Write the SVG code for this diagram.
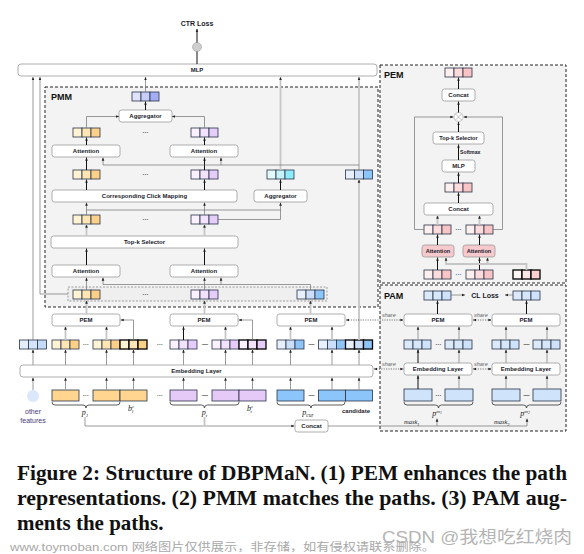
<svg xmlns="http://www.w3.org/2000/svg" width="584" height="554" viewBox="0 0 584 554">
<style>
.bx{fill:#fff;stroke:#9b9b9b;stroke-width:0.8}
.bxp{fill:#f6c9cc;stroke:#9b9b9b;stroke-width:0.8}
.bt{font-family:"Liberation Sans",Arial,sans-serif;font-weight:bold;font-size:6px;text-anchor:middle;fill:#1b1b2b}
.rg{fill:#f3f3f3;stroke:#222;stroke-width:1;stroke-dasharray:3 2}
.rl{font-family:"Liberation Sans",Arial,sans-serif;font-weight:bold;font-size:9px;fill:#111}
.c{fill:none;stroke:#707070;stroke-width:0.7}
.d{fill:none;stroke:#111;stroke-width:1}
.g{fill:none;stroke:#c6c6c6;stroke-width:1.8}
.m{fill:none;stroke:#9a9a9a;stroke-width:1}
.a{marker-end:url(#ah)}
.sh{fill:none;stroke:#444;stroke-width:0.7;stroke-dasharray:1.2 1.2;marker-start:url(#ah);marker-end:url(#ah)}
.dots{font-family:"Liberation Sans",Arial,sans-serif;font-size:6px;font-weight:bold;text-anchor:middle;fill:#333}
.math{font-family:"Liberation Serif","Times New Roman",serif;font-style:italic;font-size:8px;fill:#222;text-anchor:middle}
.shr{font-family:"Liberation Sans",Arial,sans-serif;font-style:italic;font-size:5.5px;fill:#666}
.cap{font-family:"Liberation Serif","Times New Roman",serif;font-weight:bold;font-size:21px;fill:#111}
.cell{stroke:#283246;stroke-width:0.8}
.cb{stroke:#000;stroke-width:1.3}
.inp{stroke:#283246;stroke-width:0.8}
</style>
<defs>
<marker id="ah" viewBox="0 0 6 6" refX="6" refY="3" markerWidth="3.2" markerHeight="3.2" markerUnits="userSpaceOnUse" orient="auto-start-reverse"><path d="M0,0.5L6,3L0,5.5z" fill="#222"/></marker>
<g id="vO"><rect class="cell" x="0" y="0" width="9" height="9" fill="#fff3d4"/><rect class="cell" x="9" y="0" width="9" height="9" fill="#ffe6b4"/><rect class="cell" x="18" y="0" width="9" height="9" fill="#fdd08a"/></g>
<g id="vOb"><rect class="cb" x="0" y="0" width="9" height="9" fill="#fff3d4"/><rect class="cb" x="9" y="0" width="9" height="9" fill="#ffe6b4"/><rect class="cb" x="18" y="0" width="9" height="9" fill="#fdd08a"/></g>
<g id="vP"><rect class="cell" x="0" y="0" width="9" height="9" fill="#faf0ff"/><rect class="cell" x="9" y="0" width="9" height="9" fill="#f2e2fd"/><rect class="cell" x="18" y="0" width="9" height="9" fill="#e5ccf9"/></g>
<g id="vPb"><rect class="cb" x="0" y="0" width="9" height="9" fill="#faf0ff"/><rect class="cb" x="9" y="0" width="9" height="9" fill="#f2e2fd"/><rect class="cb" x="18" y="0" width="9" height="9" fill="#e5ccf9"/></g>
<g id="vB"><rect class="cell" x="0" y="0" width="9" height="9" fill="#e8f0fd"/><rect class="cell" x="9" y="0" width="9" height="9" fill="#cbdffb"/><rect class="cell" x="18" y="0" width="9" height="9" fill="#8ec5f8"/></g>
<g id="vBb"><rect class="cb" x="0" y="0" width="9" height="9" fill="#e8f0fd"/><rect class="cb" x="9" y="0" width="9" height="9" fill="#cbdffb"/><rect class="cb" x="18" y="0" width="9" height="9" fill="#8ec5f8"/></g>
<g id="vF"><rect class="cell" x="0" y="0" width="9" height="9" fill="#e4edfc"/><rect class="cell" x="9" y="0" width="9" height="9" fill="#d4e4fb"/><rect class="cell" x="18" y="0" width="9" height="9" fill="#c4dbfa"/></g>
<g id="vC"><rect class="cell" x="0" y="0" width="9" height="9" fill="#e2fbff"/><rect class="cell" x="9" y="0" width="9" height="9" fill="#c5f2fb"/><rect class="cell" x="18" y="0" width="9" height="9" fill="#8debfb"/></g>
<g id="vA"><rect class="cell" x="0" y="0" width="9" height="9" fill="#dfe4fc"/><rect class="cell" x="9" y="0" width="9" height="9" fill="#c7cefa"/><rect class="cell" x="18" y="0" width="9" height="9" fill="#a3aef5"/></g>
<g id="vK"><rect class="cell" x="0" y="0" width="9" height="9" fill="#fff0f0"/><rect class="cell" x="9" y="0" width="9" height="9" fill="#fddbdc"/><rect class="cell" x="18" y="0" width="9" height="9" fill="#f9c4c6"/></g>
<g id="vKb"><rect class="cb" x="0" y="0" width="9" height="9" fill="#fff6f6"/><rect class="cb" x="9" y="0" width="9" height="9" fill="#fde6e6"/><rect class="cb" x="18" y="0" width="9" height="9" fill="#f9cfd0"/></g>
<g id="vL"><rect class="cell" x="0" y="0" width="9" height="9" fill="#dce9fb"/><rect class="cell" x="9" y="0" width="9" height="9" fill="#d6e6fb"/><rect class="cell" x="18" y="0" width="9" height="9" fill="#cfe2fb"/></g>
</defs>
<rect width="584" height="554" fill="#fff"/>

<!-- regions -->
<g id="pmm-region"><rect class="rg" x="45" y="87" width="333" height="220"/><text class="rl" x="51" y="100">PMM</text></g>
<g id="pem-region"><rect class="rg" x="380" y="65" width="186" height="218"/><text class="rl" x="384" y="78">PEM</text></g>
<g id="pam-region"><rect class="rg" x="380" y="285" width="186" height="146"/><text class="rl" x="384" y="299">PAM</text></g>

<!-- top -->
<g id="ctr-loss"><text class="bt" x="197" y="26" style="font-size:7px">CTR Loss</text></g>
<g id="sigmoid"><circle cx="197" cy="47" r="4.5" fill="#cfcfcf" stroke="#aaa" stroke-width="0.7"/></g>
<g id="mlp"><rect class="bx" x="18" y="64" width="359" height="12" rx="3"/><text class="bt" x="197" y="72.2">MLP</text></g>

<!-- PMM nodes -->
<g id="agg-out"><use href="#vA" x="132" y="92"/></g>
<g id="aggregator1"><rect class="bx" x="119" y="110" width="53" height="12" rx="2.5"/><text class="bt" x="145.5" y="118.2">Aggregator</text></g>
<g id="att-out1"><use href="#vO" x="73" y="128"/></g>
<g id="att-out2"><use href="#vP" x="191" y="128"/></g>
<text class="dots" x="145.5" y="134">···</text>
<g id="attention-top1"><rect class="bx" x="52" y="145" width="68" height="12" rx="2.5"/><text class="bt" x="86" y="153.2">Attention</text></g>
<g id="attention-top2"><rect class="bx" x="170" y="145" width="68" height="12" rx="2.5"/><text class="bt" x="204" y="153.2">Attention</text></g>
<g id="ccm-out1"><use href="#vO" x="73" y="170"/></g>
<g id="ccm-out2"><use href="#vP" x="191" y="170"/></g>
<text class="dots" x="145.5" y="176">···</text>
<g id="agg2-out"><use href="#vC" x="267" y="170"/></g>
<g id="cand-vec"><use href="#vB" x="345.5" y="170"/></g>
<g id="ccm"><rect class="bx" x="52" y="190" width="185" height="12" rx="2.5"/><text class="bt" x="144.5" y="198.2">Corresponding Click Mapping</text></g>
<g id="aggregator2"><rect class="bx" x="254" y="190" width="53" height="12" rx="2.5"/><text class="bt" x="280.5" y="198.2">Aggregator</text></g>
<g id="topk-out1"><use href="#vO" x="73" y="215"/></g>
<g id="topk-out2"><use href="#vP" x="191" y="215"/></g>
<text class="dots" x="145.5" y="221">···</text>
<g id="topk"><rect class="bx" x="51" y="236" width="187" height="12" rx="2.5"/><text class="bt" x="144.5" y="244.2">Top-k Selector</text></g>
<g id="attention-bot1"><rect class="bx" x="52" y="265" width="68" height="12" rx="2.5"/><text class="bt" x="86" y="273.2">Attention</text></g>
<g id="attention-bot2"><rect class="bx" x="170" y="265" width="68" height="12" rx="2.5"/><text class="bt" x="204" y="273.2">Attention</text></g>
<g id="pem-outs"><rect x="68" y="287" width="259" height="14" fill="#efefef" stroke="#888" stroke-width="0.8" stroke-dasharray="2 1.5"/><use href="#vO" x="73" y="290"/><use href="#vP" x="191" y="290"/><use href="#vB" x="297" y="290"/><text class="dots" x="145.5" y="296">···</text></g>

<!-- main bottom -->
<g id="pem1"><rect class="bx" x="52" y="314" width="68" height="12" rx="2.5"/><text class="bt" x="86" y="322.2">PEM</text></g>
<g id="pem2"><rect class="bx" x="170" y="314" width="68" height="12" rx="2.5"/><text class="bt" x="204" y="322.2">PEM</text></g>
<g id="pem3"><rect class="bx" x="277" y="314" width="68" height="12" rx="2.5"/><text class="bt" x="311" y="322.2">PEM</text></g>
<g id="emb-vectors">
<use href="#vF" x="19.5" y="340"/>
<use href="#vO" x="52" y="340"/><text class="dots" x="86" y="346">···</text><use href="#vO" x="93" y="340"/><use href="#vOb" x="120" y="340"/>
<text class="dots" x="160" y="346">···</text>
<use href="#vP" x="170" y="340"/><text class="dots" x="205" y="346">—</text><use href="#vP" x="212" y="340"/><use href="#vPb" x="239" y="340"/>
<use href="#vB" x="277" y="340"/><text class="dots" x="311.5" y="346">—</text><use href="#vB" x="318.5" y="340"/><use href="#vBb" x="345.5" y="340"/>
</g>
<g id="embedding"><rect class="bx" x="20" y="365" width="353" height="12" rx="3"/><text class="bt" x="196.5" y="373.2">Embedding Layer</text></g>
<g id="inputs">
<circle cx="33" cy="396" r="6" fill="#dbe8fb"/>
<text x="33" y="414" text-anchor="middle" font-family="Liberation Sans, Arial, sans-serif" font-size="7" fill="#4b3a78">other</text>
<text x="33" y="423" text-anchor="middle" font-family="Liberation Sans, Arial, sans-serif" font-size="7" fill="#4b3a78">features</text>
<rect class="inp" x="52" y="390" width="27" height="11" fill="#ffd590"/><text class="dots" x="86" y="397">···</text><rect class="inp" x="93" y="390" width="27" height="11" fill="#ffd590"/><rect class="inp" x="120" y="390" width="27" height="11" fill="#ffd590"/>
<text class="dots" x="160" y="397">···</text>
<rect class="inp" x="170" y="390" width="27" height="11" fill="#e5c9f7"/><text class="dots" x="205" y="397">—</text><rect class="inp" x="212" y="390" width="27" height="11" fill="#e5c9f7"/><rect class="inp" x="239" y="390" width="27" height="11" fill="#e5c9f7"/>
<rect class="inp" x="277" y="390" width="27" height="11" fill="#8cc5fa"/><text class="dots" x="311.5" y="397">—</text><rect class="inp" x="318.5" y="390" width="27" height="11" fill="#8cc5fa"/><rect class="inp" x="345.5" y="390" width="27" height="11" fill="#8cc5fa"/>
<path d="M52,402 q0,3 3,3 H83 q3,0 3,3 q0,-3 3,-3 H117 q3,0 3,-3 M170,402 q0,3 3,3 H201.5 q3,0 3,3 q0,-3 3,-3 H236 q3,0 3,-3 M277,402 q0,3 3,3 H308 q3,0 3,3 q0,-3 3,-3 H342 q3,0 3,-3" fill="none" stroke="#333" stroke-width="0.8"/>
<text class="math" x="85" y="415">p<tspan font-size="5" dy="1.5">1</tspan></text>
<text class="math" x="131" y="411">b<tspan font-size="4.5" dy="-3">c</tspan><tspan font-size="4.5" dx="-2.5" dy="5">1</tspan></text>
<text class="math" x="204.5" y="415">p<tspan font-size="5" dy="1.5">t</tspan></text>
<text class="math" x="250" y="411">b<tspan font-size="4.5" dy="-3">c</tspan><tspan font-size="4.5" dx="-2.5" dy="5">t</tspan></text>
<text class="math" x="308" y="415">p<tspan font-size="5.5" dy="1.5">cur</tspan></text>
<text class="bt" x="356" y="413">candidate</text>
</g>
<g id="concat-main"><rect class="bx" x="295" y="420" width="33" height="12" rx="2.5"/><text class="bt" x="311.5" y="428.2">Concat</text></g>

<!-- PEM detail -->
<g id="pem-out"><use href="#vK" x="445" y="68"/></g>
<g id="pem-concat-top"><rect class="bx" x="442" y="89" width="33" height="12" rx="2.5"/><text class="bt" x="458.5" y="97.2">Concat</text></g>
<g id="pem-mult"><circle cx="458.5" cy="117" r="4.5" fill="#fff" stroke="#aaa" stroke-width="0.7"/><path d="M455.3,113.8L461.7,120.2M461.7,113.8L455.3,120.2" stroke="#aaa" stroke-width="0.7"/></g>
<g id="pem-topk"><rect class="bx" x="433" y="132" width="51" height="12" rx="2.5"/><text class="bt" x="458.5" y="140.2" style="font-size:5.6px">Top-k Selector</text></g>
<text class="bt" x="460" y="154" style="text-anchor:start;font-size:5.2px">Softmax</text>
<g id="pem-mlp"><rect class="bx" x="442" y="160" width="33" height="12" rx="2.5"/><text class="bt" x="458.5" y="168.2">MLP</text></g>
<g id="pem-mid"><use href="#vK" x="445" y="183"/></g>
<g id="pem-concat"><rect class="bx" x="424" y="203" width="69" height="12" rx="2.5"/><text class="bt" x="458.5" y="211.2">Concat</text></g>
<g id="pem-att-out"><use href="#vK" x="424" y="225"/><use href="#vK" x="466" y="225"/><text class="dots" x="458.5" y="231">···</text></g>
<g id="pem-att1"><rect class="bxp" x="422" y="245" width="32" height="12" rx="2.5"/><text class="bt" x="438" y="253.2" style="font-size:5.6px">Attention</text></g>
<g id="pem-att2"><rect class="bxp" x="463" y="245" width="32" height="12" rx="2.5"/><text class="bt" x="479" y="253.2" style="font-size:5.6px">Attention</text></g>
<g id="pem-in"><use href="#vK" x="424" y="270"/><use href="#vK" x="466" y="270"/><text class="dots" x="458.5" y="276" style="fill:#3050c0">···</text><use href="#vKb" x="513" y="270"/></g>

<!-- PAM detail -->
<g id="pam-out1"><use href="#vL" x="424" y="291"/></g>
<g id="pam-out2"><use href="#vL" x="513" y="291"/></g>
<text class="bt" x="485" y="298" style="font-size:7px">CL Loss</text>
<g id="pam-pem1"><rect class="bx" x="404" y="314" width="68" height="12" rx="2.5"/><text class="bt" x="438" y="322.2">PEM</text></g>
<g id="pam-pem2"><rect class="bx" x="492" y="314" width="68" height="12" rx="2.5"/><text class="bt" x="526" y="322.2">PEM</text></g>
<g id="pam-vecs"><use href="#vL" x="404" y="340"/><text class="dots" x="438.5" y="346">···</text><use href="#vL" x="445" y="340"/><use href="#vL" x="492" y="340"/><text class="dots" x="526.5" y="346">—</text><use href="#vL" x="533" y="340"/></g>
<g id="pam-emb1"><rect class="bx" x="404" y="363" width="68" height="12" rx="2.5"/><text class="bt" x="438" y="371.2">Embedding Layer</text></g>
<g id="pam-emb2"><rect class="bx" x="492" y="363" width="68" height="12" rx="2.5"/><text class="bt" x="526" y="371.2">Embedding Layer</text></g>
<g id="pam-inputs">
<rect class="inp" x="404" y="389" width="28" height="12" fill="#cfe3fb"/><text class="dots" x="438.5" y="397">···</text><rect class="inp" x="445" y="389" width="28" height="12" fill="#cfe3fb"/>
<rect class="inp" x="492" y="389" width="28" height="12" fill="#cfe3fb"/><text class="dots" x="526.5" y="397">—</text><rect class="inp" x="533" y="389" width="28" height="12" fill="#cfe3fb"/>
<path d="M404,402 q0,3 3,3 H435.5 q3,0 3,3 q0,-3 3,-3 H470 q3,0 3,-3 M492,402 q0,3 3,3 H523.5 q3,0 3,3 q0,-3 3,-3 H558 q3,0 3,-3" fill="none" stroke="#333" stroke-width="0.8"/>
<text class="math" x="437" y="416">p<tspan font-size="5" dy="-3.5">m</tspan><tspan font-size="3.5" dy="1.5">1</tspan></text>
<text class="math" x="525" y="416">p<tspan font-size="5" dy="-3.5">m</tspan><tspan font-size="3.5" dy="1.5">2</tspan></text>
<text class="math" x="404" y="424" style="text-anchor:start;font-size:6.5px">mask<tspan font-size="4.5" dy="1.5">1</tspan></text>
<text class="math" x="494" y="424" style="text-anchor:start;font-size:6.5px">mask<tspan font-size="4.5" dy="1.5">2</tspan></text>
</g>
<text class="shr" x="382" y="317">share</text>
<text class="shr" x="474" y="317">share</text>
<text class="shr" x="382" y="366">share</text>
<text class="shr" x="474" y="366">share</text>

<!-- connectors -->
<g id="connectors">
<path class="d" d="M197,64V51.5"/>
<path class="d a" d="M197,42.5V29"/>
<path class="c a" d="M33,340V77"/>
<path class="c a" d="M68,294H40V77"/>
<path class="c a" d="M145.5,92V77"/>
<path class="g a" d="M280.5,170V77"/>
<path class="c" d="M359,170V165"/>
<path class="g a" d="M359,165V77"/>
<path class="d a" d="M145.5,110V101.5"/>
<path class="c a" d="M86.5,128V116.5H119"/>
<path class="c a" d="M204.5,128V116.5H172"/>
<path class="d a" d="M86.5,145V137.5"/>
<path class="d a" d="M204.5,145V137.5"/>
<path class="d a" d="M86.5,170V157.5"/>
<path class="d a" d="M204.5,170V157.5"/>
<path class="c a" d="M359,165H103V157.5"/>
<path class="c a" d="M221,165V157.5"/>
<path class="d a" d="M86.5,190V179.5"/>
<path class="d a" d="M204.5,190V179.5"/>
<path class="d a" d="M280.5,190V179.5"/>
<path class="g a" d="M359,340V179.5"/>
<path class="c a" d="M86.5,215V202.5"/>
<path class="c a" d="M204.5,215V202.5"/>
<path class="c a" d="M86.5,210H280.5V202.5"/>
<path class="c" d="M218,219.5H280.5V210"/>
<path class="g a" d="M86.5,236V224.5"/>
<path class="g a" d="M204.5,236V224.5"/>
<path class="d a" d="M86.5,265V248.5"/>
<path class="d a" d="M204.5,265V248.5"/>
<path class="c a" d="M86.5,290V277.5"/>
<path class="c a" d="M204.5,290V277.5"/>
<path class="c a" d="M310.5,290V284.5H103V277.5"/>
<path class="c a" d="M221,284.5V277.5"/>
<path class="g a" d="M86.5,314V300.5"/>
<path class="g a" d="M204.5,314V300.5"/>
<path class="g a" d="M310.5,314V300.5"/>
<path class="g a" d="M65.5,340V326.5"/>
<path class="g a" d="M106.5,340V326.5"/>
<path class="d a" d="M183.5,340V326.5"/>
<path class="g a" d="M225.5,340V326.5"/>
<path class="g a" d="M290.5,340V326.5"/>
<path class="g a" d="M332,340V326.5"/>
<path class="c a" d="M133.5,340V320H120.5"/>
<path class="c a" d="M252.5,340V320H238.5"/>
<path class="m a" d="M33,365V349.5"/>
<path class="m a" d="M65.5,365V349.5"/>
<path class="m a" d="M106.5,365V349.5"/>
<path class="m a" d="M133.5,365V349.5"/>
<path class="m a" d="M183.5,365V349.5"/>
<path class="m a" d="M225.5,365V349.5"/>
<path class="m a" d="M252.5,365V349.5"/>
<path class="m a" d="M290.5,365V349.5"/>
<path class="m a" d="M332,365V349.5"/>
<path class="m a" d="M359,365V349.5"/>
<path class="m a" d="M33,390V377.5"/>
<path class="m a" d="M65.5,390V377.5"/>
<path class="m a" d="M106.5,390V377.5"/>
<path class="m a" d="M133.5,390V377.5"/>
<path class="m a" d="M183.5,390V377.5"/>
<path class="m a" d="M225.5,390V377.5"/>
<path class="m a" d="M252.5,390V377.5"/>
<path class="m a" d="M290.5,390V377.5"/>
<path class="m a" d="M332,390V377.5"/>
<path class="m a" d="M359,390V377.5"/>
<path class="c a" d="M85,417V426H294.5"/>
<path class="g" d="M204.5,417V426"/>
<path class="c a" d="M328,426H527V418.5"/>
<path class="c a" d="M437,426V418.5"/>
<path class="sh" d="M346,320H403.5"/>
<path class="sh" d="M473,320H491.5"/>
<path class="sh" d="M374,369H403.5"/>
<path class="sh" d="M473,369H491.5"/>
<path class="d a" d="M458.5,89V77.5"/>
<path class="d a" d="M458.5,112.5V101.5"/>
<path class="d a" d="M458.5,132V122"/>
<path class="d a" d="M458.5,160V144.5"/>
<path class="d a" d="M458.5,183V172.5"/>
<path class="d a" d="M458.5,203V192.5"/>
<path class="g a" d="M437.5,225V215.5"/>
<path class="g a" d="M479.5,225V215.5"/>
<path class="c a" d="M424,229.5H414.5V117H453.5"/>
<path class="c a" d="M493,229.5H502.5V117H463.5"/>
<path class="d a" d="M437.5,245V234.5"/>
<path class="d a" d="M479.5,245V234.5"/>
<path class="d a" d="M437.5,270V257.5"/>
<path class="d a" d="M479.5,270V257.5"/>
<path class="g a" d="M526.5,270V264H446V257.5"/>
<path class="g a" d="M487.5,264V257.5"/>
<path class="c a" d="M451,295H465"/>
<path class="c a" d="M513,295H505"/>
<path class="d a" d="M437.5,314V300.5"/>
<path class="d a" d="M526.5,314V300.5"/>
<path class="m a" d="M418,340V326.5"/>
<path class="m a" d="M459,340V326.5"/>
<path class="m a" d="M506,340V326.5"/>
<path class="m a" d="M547,340V326.5"/>
<path class="d a" d="M418,363V349.5"/>
<path class="m a" d="M459,363V349.5"/>
<path class="m a" d="M506,363V349.5"/>
<path class="m a" d="M547,363V349.5"/>
<path class="d a" d="M418,389V375.5"/>
<path class="m a" d="M459,389V375.5"/>
<path class="m a" d="M506,389V375.5"/>
<path class="m a" d="M547,389V375.5"/>
</g>

<!-- caption -->
<g id="caption">
<text class="cap" x="17" y="480" textLength="550" lengthAdjust="spacingAndGlyphs">Figure 2: Structure of DBPMaN. (1) PEM enhances the path</text>
<text class="cap" x="17" y="505" textLength="550" lengthAdjust="spacingAndGlyphs">representations. (2) PMM matches the paths. (3) PAM aug-</text>
<text class="cap" x="17" y="530">ments the paths.</text>
</g>
<g id="watermark">
<text x="382" y="543" font-family="Liberation Sans, Noto Sans CJK SC, sans-serif" font-size="17" fill="#b4b4b4" textLength="190" lengthAdjust="spacingAndGlyphs">CSDN @我想吃红烧肉</text>
<text x="10" y="551" font-family="Liberation Sans, Noto Sans CJK SC, sans-serif" font-size="11" fill="#a8a8a8" textLength="425" lengthAdjust="spacingAndGlyphs">www.toymoban.com 网络图片仅供展示，非存储，如有侵权请联系删除。</text>
</g>
</svg>
